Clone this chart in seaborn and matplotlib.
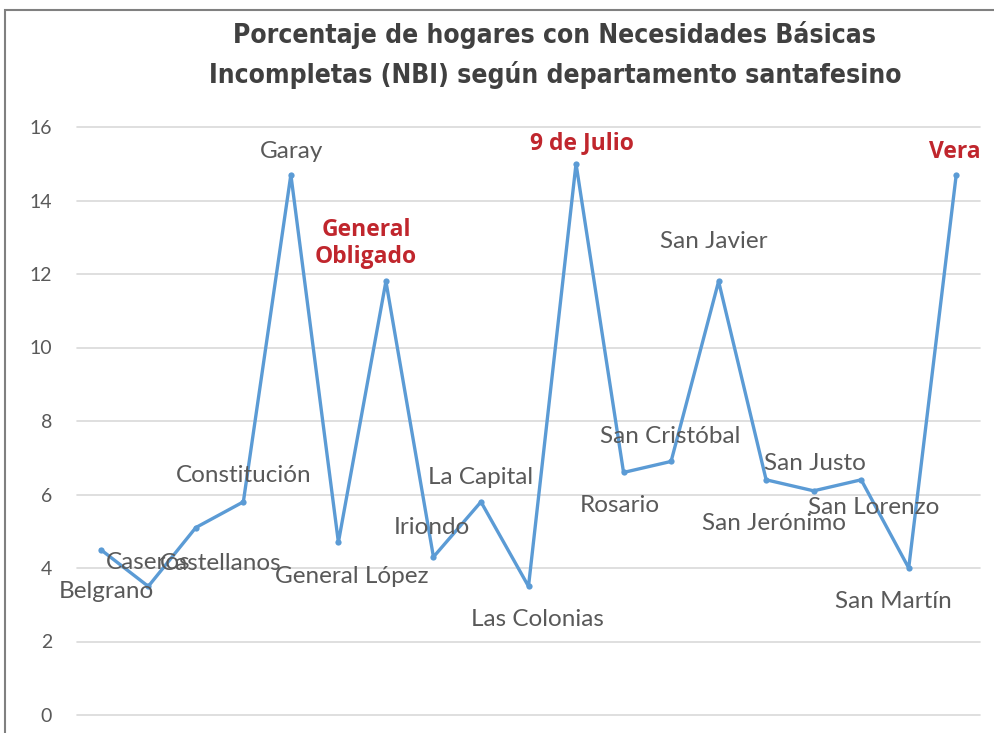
import matplotlib
matplotlib.use("Agg")
import matplotlib.pyplot as plt
import seaborn as sns
import pandas as pd
from matplotlib.patches import Rectangle

departamentos = ["Belgrano", "Caseros", "Castellanos", "Constitución", "Garay",
                 "General López", "General\nObligado", "Iriondo", "La Capital",
                 "Las Colonias", "9 de Julio", "Rosario", "San Cristóbal",
                 "San Javier", "San Jerónimo", "San Justo", "San Lorenzo",
                 "San Martín", "Vera"]
nbi = [4.5, 3.5, 5.1, 5.8, 14.7, 4.7, 11.8, 4.3, 5.8, 3.5, 15.0, 6.6, 6.9,
       11.8, 6.4, 6.1, 6.4, 4.0, 14.7]
destacados = ["General\nObligado", "9 de Julio", "Vera"]
yticks = [0, 2, 4, 6, 8, 10, 12, 14, 16]

# label offsets in pixels (dx, dy)
offsets = [(6, -42), (0, 24), (25, -36), (0, 26), (1, 23), (13, -34), (-20, 38),
           (-2, 29), (0, 24), (9, -33), (6, 21), (-4, -33), (-1, 25), (-5, 40),
           (8, -44), (1, 27), (13, -28), (-15, -33), (-1, 23)]

sns.set_theme(style="white")
plt.rcParams["font.family"] = ["Lato", "DejaVu Sans"]

W, H = 995, 733
fig = plt.figure(figsize=(W / 100, H / 100), dpi=100)
ax = fig.add_axes([77 / W, (H - 715) / H, (980 - 77) / W, (715 - 127) / H])

df = pd.DataFrame({"idx": range(len(departamentos)), "nbi": nbi})
sns.lineplot(data=df, x="idx", y="nbi", ax=ax, color="#5B9BD5", linewidth=2.4,
             marker="o", markersize=4.5, markeredgewidth=0, clip_on=False, zorder=3)

ax.set_xlim(-0.5, len(departamentos) - 0.5)
ax.set_ylim(0, 16)
ax.set_yticks(yticks)
ax.set_yticklabels([str(v) for v in yticks], color="#595959", fontsize=14)
ax.set_xticks([])
ax.set_xlabel("")
ax.set_ylabel("")
ax.tick_params(axis="y", length=0, pad=18)
for s in ax.spines.values():
    s.set_visible(False)
for v in yticks:
    ax.axhline(v, color="#D9D9D9", linewidth=1.2, zorder=1, clip_on=False)

for i, (name, val) in enumerate(zip(departamentos, nbi)):
    dx, dy = offsets[i]
    if name in destacados:
        ax.annotate(name, (i, val), xytext=(dx, dy), textcoords="offset pixels",
                    ha="center", va="center", color="#C0262D", fontsize=16.5,
                    fontweight="bold", linespacing=1.15, zorder=4,
                    family=["Open Sans", "DejaVu Sans"])
    else:
        ax.annotate(name, (i, val), xytext=(dx, dy), textcoords="offset pixels",
                    ha="center", va="center", color="#595959", fontsize=17.5,
                    zorder=4)

fig.text(555 / W, 1 - 35 / H, "Porcentaje de hogares con Necesidades Básicas",
         ha="center", va="center", fontsize=19, fontweight="bold",
         fontstretch="condensed", family="DejaVu Sans", color="#404040")
fig.text(555 / W, 1 - 75 / H, "Incompletas (NBI) según departamento santafesino",
         ha="center", va="center", fontsize=19, fontweight="bold",
         fontstretch="condensed", family="DejaVu Sans", color="#404040")

fig.patches.append(Rectangle((5 / W, -0.05), 1.2, 1 - 10 / H + 0.05,
                             transform=fig.transFigure, fill=False,
                             edgecolor="#808080", linewidth=1.5))

fig.savefig("out.png", dpi=100)
